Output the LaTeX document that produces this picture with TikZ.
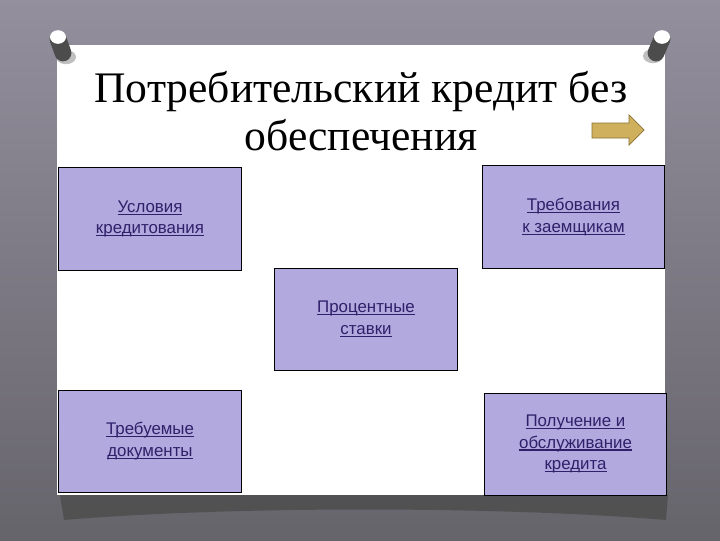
\documentclass[tikz,border=0pt]{standalone}
\usepackage{fontspec}
\setmainfont{Liberation Serif}
\newfontfamily\boxfont{Liberation Sans}
\usepackage{tikz}
\usetikzlibrary{positioning}
\definecolor{slate}{HTML}{938F9D}
\definecolor{slatedark}{HTML}{66646B}
\definecolor{lilac}{HTML}{B2A9DF}
\definecolor{linktext}{HTML}{30206A}
\definecolor{gold}{HTML}{CFB05C}
\definecolor{golddark}{HTML}{8A7232}
\newcommand{\lnk}[1]{\leavevmode\setbox0\hbox{#1}\rlap{\rule[-1.8pt]{\wd0}{0.9pt}}\box0}

\begin{document}
\begin{tikzpicture}[x=0.025cm, y=-0.025cm,
    node distance=2.975cm and 1cm,
    b/.style={draw=black, line width=0.7pt, fill=lilac, align=center,
      minimum width=4.55cm, minimum height=2.55cm, inner sep=2pt,
      text=linktext, font=\boxfont\fontsize{12}{15.3}\selectfont},
    tack/.style={line width=0.42cm, line cap=round, draw=black!70}]
  % background and sheet
  \shade[top color=slate, bottom color=slatedark] (0,0) rectangle (720,540);
  \fill[black!70, opacity=0.8] (60,495) -- (668,495) -- (666,520)
    .. controls (500,506) and (230,506) .. (64,520) -- cycle;
  \fill[white] (57,45) rectangle (665,495);
  % pins
  \fill[black!50, opacity=0.5] (66,57) ellipse (0.25cm and 0.18cm);
  \draw[tack] (58,39) -- (63,53);
  \fill[white] (58,37) ellipse (0.2cm and 0.17cm);
  \fill[black!50, opacity=0.5] (653,56) ellipse (0.25cm and 0.18cm);
  \draw[tack] (662,39) -- (656,53);
  \fill[white] (662,37) ellipse (0.2cm and 0.17cm);
  % title
  \node[font=\fontsize{31}{34}\selectfont, align=center, anchor=base] (title)
    at (361,150) {Потребительский кредит без\\обеспечения};
  \filldraw[fill=gold, draw=golddark, line width=0.5pt] (592,123) -- (629,123)
    -- (629,115) -- (644,130) -- (629,145) -- (629,138) -- (592,138) -- cycle;
  % boxes
  \node[b] (terms) at (150,219) {\lnk{Условия}\\\lnk{кредитования}};
  \node[b] (reqs) at (573.5,217) {\lnk{Требования}\\\lnk{к заемщикам}};
  \node[b] (rates) at (366,319) {\lnk{Процентные}\\\lnk{ставки}};
  \node[b, below=of terms] (docs) {\lnk{Требуемые}\\\lnk{документы}};
  \node[b, below=3.1cm of reqs, xshift=0.05cm] (service)
    {\lnk{Получение и}\\\lnk{обслуживание}\\\lnk{кредита}};
\end{tikzpicture}
\end{document}
